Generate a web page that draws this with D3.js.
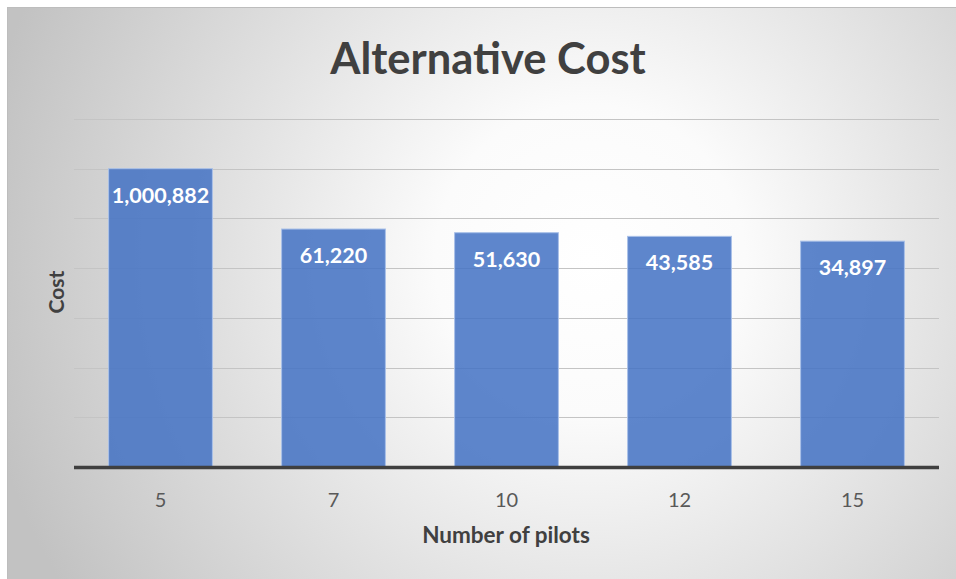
<!DOCTYPE html>
<html>
<head>
<meta charset="utf-8">
<script src="https://cdn.jsdelivr.net/npm/d3@7"></script>
<style>
  html, body { margin: 0; padding: 0; background: #ffffff; }
  svg { display: block; }
</style>
</head>
<body>
<svg id="chart" width="956" height="579"></svg>
<script>
// Chart data
const categories = ["5", "7", "10", "12", "15"];
const costs = [1000882, 61220, 51630, 43585, 34897];
const costLabels = ["1,000,882", "61,220", "51,630", "43,585", "34,897"];
const gridValues = [1e1, 1e2, 1e3, 1e4, 1e5, 1e6, 1e7];

const W = 956, H = 579;
const plot = { left: 74, right: 939, top: 119, bottom: 467 };
const font = "Lato, 'Open Sans', sans-serif";

const svg = d3.select("#chart");
const defs = svg.append("defs");

// Soft radial backdrop, light in the middle and grey toward the edges
const grad = defs.append("radialGradient")
  .attr("id", "bg")
  .attr("gradientUnits", "userSpaceOnUse")
  .attr("cx", 590).attr("cy", 260).attr("r", 620);
grad.append("stop").attr("offset", "0").attr("stop-color", "#ffffff");
grad.append("stop").attr("offset", "0.25").attr("stop-color", "#fbfbfb");
grad.append("stop").attr("offset", "1").attr("stop-color", "#c2c2c2");

svg.append("rect")
  .attr("x", 7.5).attr("y", 7.5)
  .attr("width", W).attr("height", H)
  .attr("fill", "url(#bg)")
  .attr("stroke", "#bdbdbd")
  .attr("stroke-width", 1);

// Scales
const x = d3.scaleBand()
  .domain(categories)
  .range([plot.left, plot.right])
  .paddingInner(0.4)
  .paddingOuter(0.2);

const y = d3.scaleLog()
  .domain([1, 1e7])
  .range([plot.bottom, plot.top]);

// Horizontal gridlines
svg.append("g")
  .selectAll("line")
  .data(gridValues)
  .join("line")
  .attr("x1", plot.left).attr("x2", plot.right)
  .attr("y1", d => Math.round(y(d)) + 0.5)
  .attr("y2", d => Math.round(y(d)) + 0.5)
  .attr("stroke", "#c4c4c4")
  .attr("stroke-width", 1);

// Bars
svg.append("g")
  .selectAll("rect")
  .data(costs)
  .join("rect")
  .attr("x", (d, i) => x(categories[i]))
  .attr("y", d => y(d))
  .attr("width", x.bandwidth())
  .attr("height", d => plot.bottom - y(d))
  .attr("fill", "#4472c4")
  .attr("fill-opacity", 0.86)
  .attr("stroke", "#a9c0e8")
  .attr("stroke-width", 1);

// Value labels inside the top of each bar
svg.append("g")
  .selectAll("text")
  .data(costs)
  .join("text")
  .attr("x", (d, i) => x(categories[i]) + x.bandwidth() / 2)
  .attr("y", d => y(d) + 34)
  .attr("text-anchor", "middle")
  .attr("font-family", font)
  .attr("font-weight", "bold")
  .attr("font-size", 21.5)
  .attr("fill", "#ffffff")
  .text((d, i) => costLabels[i]);

// X axis baseline and category labels
const xAxis = d3.axisBottom(x).tickSize(0).tickPadding(26);
const gx = svg.append("g")
  .attr("transform", `translate(0,${plot.bottom})`)
  .call(xAxis);
gx.select(".domain").remove();
gx.selectAll("text")
  .attr("font-family", font)
  .attr("font-size", 20)
  .attr("fill", "#595959");
svg.append("line")
  .attr("x1", plot.left).attr("x2", plot.right)
  .attr("y1", plot.bottom + 0.5).attr("y2", plot.bottom + 0.5)
  .attr("stroke", "#3f3f3f")
  .attr("stroke-width", 3.5);

// Titles
svg.append("text")
  .attr("x", 488).attr("y", 74)
  .attr("text-anchor", "middle")
  .attr("font-family", font)
  .attr("font-weight", "bold")
  .attr("font-size", 43.5)
  .attr("fill", "#404040")
  .text("Alternative Cost");

svg.append("text")
  .attr("x", 506).attr("y", 543)
  .attr("text-anchor", "middle")
  .attr("font-family", font)
  .attr("font-weight", "bold")
  .attr("font-size", 22.5)
  .attr("fill", "#404040")
  .text("Number of pilots");

svg.append("text")
  .attr("transform", "translate(64,292) rotate(-90)")
  .attr("text-anchor", "middle")
  .attr("font-family", font)
  .attr("font-weight", "bold")
  .attr("font-size", 21)
  .attr("fill", "#404040")
  .text("Cost");
</script>
</body>
</html>
